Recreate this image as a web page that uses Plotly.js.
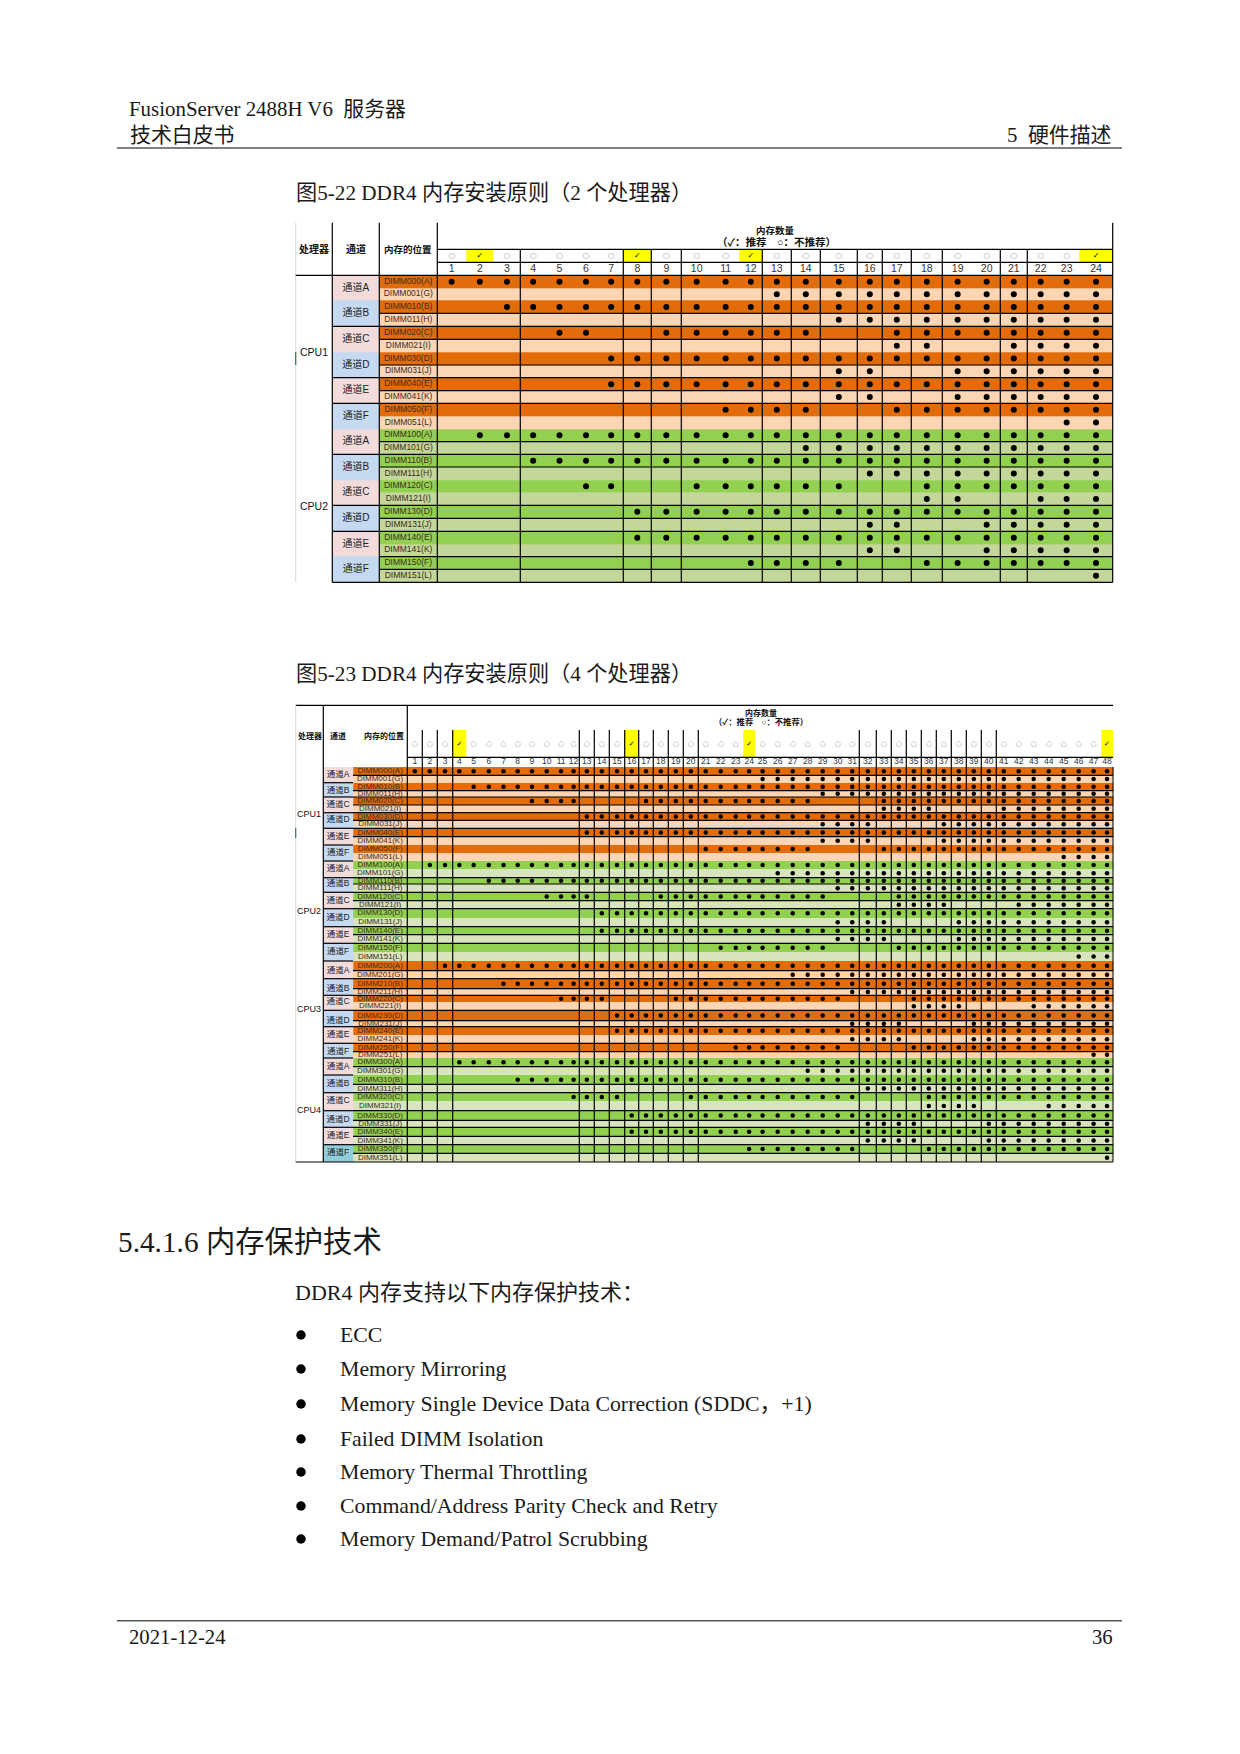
<!DOCTYPE html>
<html><head><meta charset="utf-8">
<script src="https://cdn.plot.ly/plotly-3.0.1.min.js"></script>
<style>html,body{margin:0;padding:0;background:#fff}#c{width:1240px;height:1754px}</style></head>
<body><div id="c"></div>
<script>
// ---------- data ----------
const dimms2P = ["DIMM000(A)","DIMM001(G)","DIMM010(B)","DIMM011(H)","DIMM020(C)","DIMM021(I)","DIMM030(D)","DIMM031(J)","DIMM040(E)","DIMM041(K)","DIMM050(F)","DIMM051(L)",
 "DIMM100(A)","DIMM101(G)","DIMM110(B)","DIMM111(H)","DIMM120(C)","DIMM121(I)","DIMM130(D)","DIMM131(J)","DIMM140(E)","DIMM141(K)","DIMM150(F)","DIMM151(L)"];
const dimms4P = dimms2P.concat(["DIMM200(A)","DIMM201(G)","DIMM210(B)","DIMM211(H)","DIMM220(C)","DIMM221(I)","DIMM230(D)","DIMM231(J)","DIMM240(E)","DIMM241(K)","DIMM250(F)","DIMM251(L)",
 "DIMM300(A)","DIMM301(G)","DIMM310(B)","DIMM311(H)","DIMM320(C)","DIMM321(I)","DIMM330(D)","DIMM331(J)","DIMM340(E)","DIMM341(K)","DIMM350(F)","DIMM351(L)"]);
const channels = ["通道A","通道B","通道C","通道D","通道E","通道F"];
const recommended2P = [2,8,12,24];
const recommended4P = [4,16,24,48];
// populated memory counts per DIMM slot, row by row
const filled2P = ["1-24","13-24","3-24","15-24","5-6 9-14 17-24","17-18 21-24","7-24","15-16 19-24","7-24","15-16 19-24","11-14 17-24","23-24",
 "2-24","14-24","4-24","16-24","6-7 10-15 18-24","18-19 22-24","8-24","16-17 20-24","8-24","16-17 20-24","12-15 18-24","24"];
const filled4P = ["1-48","25-48","5-48","29-48","9-12 17-28 33-48","33-36 41-48","13-48","29-32 37-48","13-48","29-32 37-48","21-28 33-48","45-48",
 "2-48","26-48","6-48","30-48","10-13 18-29 34-48","34-37 42-48","14-48","30-33 38-48","14-48","30-33 38-48","22-29 34-48","46-48",
 "3-48","27-48","7-48","31-48","11-14 19-30 35-48","35-38 43-48","15-48","31-34 39-48","15-48","31-34 39-48","23-30 35-48","47-48",
 "4-48","28-48","8-48","32-48","12-15 20-31 36-48","36-39 44-48","16-48","32-35 40-48","16-48","32-35 40-48","24-31 36-48","48"];
const listItems = ["ECC","Memory Mirroring","Memory Single Device Data Correction (SDDC，+1)","Failed DIMM Isolation","Memory Thermal Throttling","Command/Address Parity Check and Retry","Memory Demand/Patrol Scrubbing"];

// ---------- page grid (layout only) ----------
const colEdges2P=[437.3,466,493.7,520.3,546,573,599,623.3,651.3,681.3,712,739.3,762.3,791.3,820.3,857.3,882.3,911.3,942.3,973,1000.3,1027.3,1054,1079.3,1112.7];
const rowEdges2P=[275.3,288,300.7,313.3,326.3,339.3,352,365,377.7,390.7,403.3,416,429,441.7,454.3,467,480,492.7,505.3,518.3,531.3,544,556.7,569.3,582.3];
const colEdges4P=[407.3,422.3,437.3,452.7,466,481.3,496.3,510.7,524.7,539.2,554.2,567.9,579.3,594.3,609.3,624.7,638.7,653.3,668.3,683.3,698.3,713.2,728.2,743.3,755,770.2,785.2,800.2,815.2,830.2,845.2,859.3,876.3,891.3,906.3,921.3,936.3,951.3,966.3,981.3,996.3,1011.2,1026.2,1041.2,1056.2,1071.2,1086.2,1101,1113];
const rowEdges4P=[767,775.3,782.7,790.7,797,805,812.7,820.3,828.3,836.7,845,853,861,869,877.7,884,892.3,900.7,908.7,918,926.7,934.7,943.3,952,961,970.7,978.7,988.7,995.3,1002,1010.3,1020.7,1026.7,1035,1043.3,1051.7,1058,1066.7,1075,1084.3,1092.7,1101.3,1110.7,1120.3,1127.3,1136.3,1144.7,1153.3,1162];
const vLines2P=[520.3,623.3,651.3,681.3,762.3,791.3,820.3,857.3,882.3,911.3,942.3,1000.3,1027.3];
const vLines4P=[422.3,437.3,452.7,579.3,594.3,609.3,624.7,638.7,653.3,668.3,683.3,698.3,859.3,876.3,891.3,906.3,921.3,936.3,951.3,966.3,981.3,996.3];
const hRows2P=[3,4,5,7,8,9,10,13,14,15,18,19,20,22,23];
const hRows4P=[1,3,4,5,6,7,8,9,14,15,16,17,18,20,21,22,25,26,27,28,30,31,32,34,35,37,39,40,42,43,44,45,46,47];
const chanRows2P=[4,8,10,14,18,20];
const palette=['#ffffff','#F2DCDB','#C5D9F1','#92CDDC','#E26B0A','#FCD5B4','#92D050','#C4D79B','#D8E4BC','#FFFF00'];
const CJK='"Liberation Sans","Noto Sans CJK SC",sans-serif';
const SERIF='"Liberation Serif","Noto Sans CJK SC",serif';
const mid=(e,i)=>(e[i]+e[i+1])/2;
const expand=s=>s.split(' ').flatMap(p=>{const[a,b]=p.split('-').map(Number);const o=[];for(let k=a;k<=(b||a);k++)o.push(k);return o;});
const cs=palette.flatMap((c,i)=>[[i/palette.length,c],[(i+1)/palette.length,c]]);
const hm=(x,y,z)=>({type:'heatmap',x,y,z,zmin:-0.5,zmax:palette.length-0.5,colorscale:cs,showscale:false,hoverinfo:'skip'});
const traces=[],shapes=[],annotations=[];
const line=(x0,y0,x1,y1,color='#000',w=1.2)=>shapes.push({type:'line',xref:'x',yref:'y',x0,y0,x1,y1,line:{color,width:w}});
const txt=(x,y,text,size,o={})=>annotations.push({xref:'x',yref:'y',x,y,text,showarrow:false,xanchor:o.a||'left',yanchor:'middle',
  font:{family:o.f||SERIF,size,color:o.c||'#1a1a1a'},borderpad:0});
const tt=(x,y,text,size,color,family)=>traces.push({type:'scatter',mode:'text',x,y,text,textposition:'middle center',textfont:{size,color,family:family||CJK},hoverinfo:'skip',cliponaxis:false});

function table(o){
  const{dimms,filled,rec,colE,rowE,chanX,dimmX,pale,hdr,dot}=o;
  const n=colE.length-1;
  const chanColour=i=>{const c=Math.floor(i/2)%6;if(o.teal&&i>=46)return 3;return c%2?2:1;};
  traces.push(hm([chanX,dimmX].concat(colE),rowE,dimms.map((_,i)=>{
    const cpu=Math.floor(i/12)%2, light=i%2;
    const v=cpu?(light?pale:6):(light?5:4);
    return [chanColour(i)].concat(new Array(n+1).fill(v));
  })));
  traces.push(hm(colE,hdr.flag,[Array.from({length:n},(_,i)=>rec.includes(i+1)?9:0)]));
  // dots
  const xs=[],ys=[];
  filled.forEach((s,r)=>expand(s).forEach(c=>{xs.push(mid(colE,c-1));ys.push(mid(rowE,r));}));
  traces.push({type:'scatter',mode:'markers',x:xs,y:ys,marker:{size:dot,color:'#000',line:{width:0}},hoverinfo:'skip'});
  // labels
  const cx=colE.slice(0,-1).map((_,i)=>mid(colE,i));
  tt(cx,cx.map(()=>hdr.numY),cx.map((_,i)=>String(i+1)),hdr.numSize,'#333');
  const notRec=cx.filter((_,i)=>!rec.includes(i+1));
  tt(notRec,notRec.map(()=>hdr.markY),notRec.map(()=>'○'),hdr.markSize,'#8a9aa8','"DejaVu Sans"');
  const isRec=cx.filter((_,i)=>rec.includes(i+1));
  tt(isRec,isRec.map(()=>hdr.markY),isRec.map(()=>'✓'),hdr.markSize,'#000','"DejaVu Sans"');
  const dx=(dimmX+colE[0])/2;
  tt(dimms.map(()=>dx),dimms.map((_,i)=>mid(rowE,i)),dimms,o.labelSize,'#3b2b1e');
  const cLab=[],cY=[];
  dimms.forEach((_,i)=>{if(i%2==0){cLab.push(channels[(i/2)%6]);cY.push(rowE[i+1]);}});
  tt(cLab.map(()=>(chanX+dimmX)/2),cY,cLab,o.chanSize,'#222');
}

table({dimms:dimms2P,filled:filled2P,rec:recommended2P,colE:colEdges2P,rowE:rowEdges2P,chanX:332.3,dimmX:379.3,pale:7,dot:6,labelSize:8.5,chanSize:10,
  hdr:{flag:[249.3,262.3],numY:269,numSize:10.5,markY:256,markSize:8}});
table({dimms:dimms4P,filled:filled4P,rec:recommended4P,colE:colEdges4P,rowE:rowEdges4P,chanX:323.3,dimmX:353,pale:8,dot:4.5,labelSize:8,chanSize:8.5,teal:true,
  hdr:{flag:[730,757.3],numY:762,numSize:8.5,markY:744,markSize:7}});

// ---------- table rules ----------
const L1='#d8d8d8';
line(295.7,222.7,295.7,582.3,L1,1);line(295.7,352,295.7,365,'#2e7d4f',1.2);
[332.3,379.3,437.3].forEach(x=>line(x,222.7,x,582.3));
line(1112.7,222.7,1112.7,582.3);
vLines2P.forEach(x=>line(x,249.3,x,582.3));
line(437.3,249.3,1112.7,249.3);line(437.3,262.3,1112.7,262.3);
line(295.7,275.3,1112.7,275.3);line(332.3,582.3,1112.7,582.3);
hRows2P.forEach(r=>line(379.3,rowEdges2P[r],1112.7,rowEdges2P[r]));
chanRows2P.forEach(r=>line(332.3,rowEdges2P[r],379.3,rowEdges2P[r]));

line(295.7,705.3,1113,705.3);line(295.7,705.3,295.7,1162,L1,1);line(295.7,828,295.7,838,'#2e7d4f',1.2);
line(323.3,705.3,323.3,1162);line(407.3,705.3,407.3,1162);
vLines4P.forEach(x=>line(x,730,x,1162));
line(1113,767,1113,1162,'#000',1);
line(407.3,757.3,1113,757.3);line(295.7,1162,1113,1162);
hRows4P.forEach(r=>line(353,rowEdges4P[r],1113,rowEdges4P[r]));
for(let r=2;r<48;r+=2)line(323.3,rowEdges4P[r],353,rowEdges4P[r]);

// ---------- table headers ----------
const H={f:CJK,a:'center',c:'#111'};
txt(314,249,'<b>处理器</b>',10,H);txt(356,249,'<b>通道</b>',10,H);txt(408,249,'<b>内存的位置</b>',9.5,H);
txt(775,230,'<b>内存数量</b>',9.5,H);txt(776,242,'<b>（✓：推荐　○：不推荐）</b>',10.5,H);
txt(314,351.7,'CPU1',10.5,H);txt(314,506,'CPU2',10.5,H);
txt(310,736,'<b>处理器</b>',8,H);txt(338,736,'<b>通道</b>',8,H);txt(384,736,'<b>内存的位置</b>',8,H);
txt(761,712.5,'<b>内存数量</b>',8,H);txt(761,722,'<b>（✓：推荐　○：不推荐）</b>',8.3,H);
txt(309,813.7,'CPU1',9,H);txt(309,911,'CPU2',9,H);txt(309,1009,'CPU3',9,H);txt(309,1110,'CPU4',9,H);

// ---------- page text ----------
txt(128,109,'FusionServer 2488H V6  服务器',20.9);
txt(129,135,'技术白皮书',20.9);
txt(1113,135,'5  硬件描述',20.9,{a:'right'});
line(117,148,1122,148,'#555',1.5);
txt(295,193,'图5-22 DDR4 内存安装原则（2 个处理器）',21.2);
txt(295,674,'图5-23 DDR4 内存安装原则（4 个处理器）',21.2);
txt(117,1242,'5.4.1.6 内存保护技术',29.3);
txt(294,1292,'DDR4 内存支持以下内存保护技术：',22);
const listY=[1335,1369,1404,1439,1472,1506,1539];
listItems.forEach((t,i)=>txt(339,listY[i],t,21.8));
traces.push({type:'scatter',mode:'markers',x:listY.map(()=>301),y:listY,marker:{size:9.5,color:'#000'},hoverinfo:'skip'});
line(117,1620.7,1122,1620.7,'#555',1.5);
txt(128,1637,'2021-12-24',20.7);
txt(1114,1637,'36',20.7,{a:'right'});

Plotly.newPlot('c',traces,{
  width:1240,height:1754,margin:{l:0,r:0,t:0,b:0},paper_bgcolor:'#fff',plot_bgcolor:'#fff',showlegend:false,
  xaxis:{range:[0,1240],visible:false,fixedrange:true},
  yaxis:{range:[1754,0],visible:false,fixedrange:true},
  shapes,annotations
},{staticPlot:true,displayModeBar:false});
</script></body></html>
